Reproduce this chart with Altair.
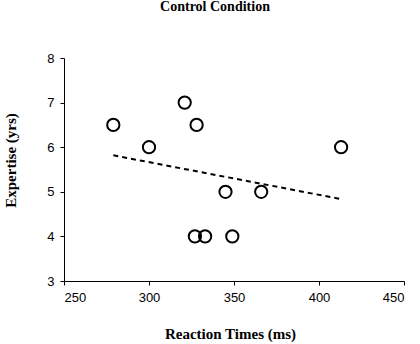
import altair as alt
import pandas as pd

reaction_ms = [279, 300, 321, 328, 327, 333, 345, 349, 366, 413]
expertise_yrs = [6.5, 6.0, 7.0, 6.5, 4.0, 4.0, 5.0, 4.0, 5.0, 6.0]

df = pd.DataFrame({"rt": reaction_ms, "exp": expertise_yrs})

sans = "Liberation Sans Narrow, Liberation Sans, Arial, sans-serif"
serif = "Liberation Serif, Times New Roman, serif"

x = alt.X("rt:Q", scale=alt.Scale(domain=[250, 450], nice=False, zero=False),
          axis=alt.Axis(values=[250, 300, 350, 400, 450], title="Reaction Times (ms)",
                        titlePadding=22, titleX=166))
y = alt.Y("exp:Q", scale=alt.Scale(domain=[3, 8], nice=False, zero=False),
          axis=alt.Axis(values=[3, 4, 5, 6, 7, 8], title="Expertise (yrs)",
                        titlePadding=28, titleY=102))

points = alt.Chart(df).mark_point(shape="circle", filled=False, size=150,
                                  stroke="black", strokeWidth=2, opacity=1).encode(x=x, y=y)

trend = alt.Chart(df).transform_regression("rt", "exp").mark_line(
    color="black", strokeWidth=2, strokeDash=[5, 4]).encode(x=x, y=y)

chart = (trend + points).properties(
    width=340, height=223,
    background="white",
    autosize=alt.AutoSizeParams(type="none"),
    padding={"left": 64, "top": 58, "right": 16, "bottom": 63},
    title=alt.TitleParams("Control Condition", font=serif, fontSize=14, fontWeight="bold",
                          color="black", anchor="middle", dx=-19, offset=38),
).configure_view(stroke=None).configure_axis(
    grid=False, domainColor="black", domainWidth=1, tickColor="black", tickSize=4,
    labelFont=sans, labelFontSize=13, labelColor="black", labelPadding=6,
    titleFont=serif, titleFontSize=15, titleFontWeight="bold", titleColor="black",
)

chart.save("out.html", embed_options={"renderer": "svg", "actions": False})
